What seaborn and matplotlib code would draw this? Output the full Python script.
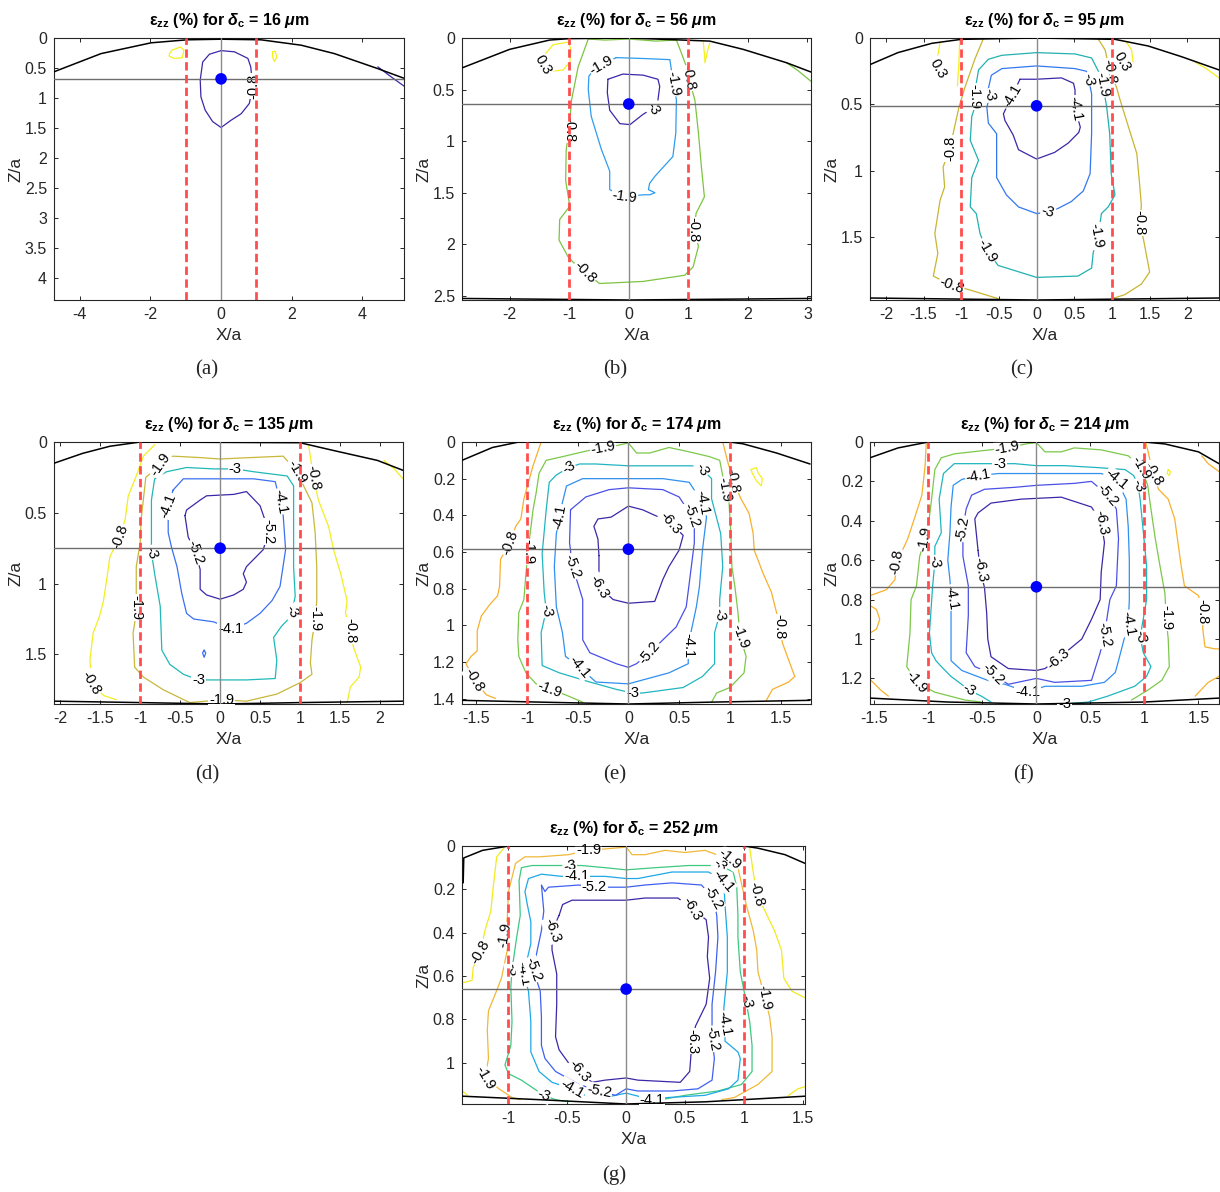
import matplotlib
matplotlib.use("Agg")
import matplotlib.pyplot as plt
from matplotlib.ticker import MultipleLocator, FuncFormatter
import seaborn as sns

sns.set_style("ticks", {"xtick.direction": "in", "ytick.direction": "in"})
plt.rcParams["font.family"] = ["Liberation Sans", "DejaVu Sans"]
plt.rcParams["axes.unicode_minus"] = False
plt.rcParams["mathtext.fontset"] = "custom"
plt.rcParams["mathtext.rm"] = "Liberation Sans:bold"
plt.rcParams["mathtext.it"] = "Liberation Sans:italic:bold"
plt.rcParams["mathtext.bf"] = "Liberation Sans:bold"

# Panel data, coordinates are (X/a, Z/a)
depth_um = [16, 56, 95, 135, 174, 214, 252]
dot_z = [0.68, 0.64, 0.51, 0.75, 0.585, 0.735, 0.66]
letters = ["(a)", "(b)", "(c)", "(d)", "(e)", "(f)", "(g)"]

# ---- (a) 16 um
top_a = [(-4.72, 0.56), (-3.40, 0.26), (-1.98, 0.08), (-0.96, 0.03), (0, 0.02), (1.13, 0.03),
         (2.27, 0.12), (3.21, 0.26), (4.44, 0.51), (5.18, 0.67)]
bottom_a = []
lines_a = [
    (-0.8, [(0.0, 0.21), (0.38, 0.23), (0.76, 0.34), (0.84, 0.48), (0.90, 0.80), (0.80, 1.09),
            (0.57, 1.26), (0.28, 1.37), (0, 1.49), (-0.24, 1.39), (-0.45, 1.20), (-0.57, 0.98),
            (-0.59, 0.70), (-0.52, 0.40), (-0.33, 0.27), (0.0, 0.21)]),
    (-0.8, [(4.44, 0.48), (4.87, 0.67), (5.18, 0.80)]),
    (0.3, [(-1.46, 0.26), (-1.38, 0.20), (-1.15, 0.15), (-1.05, 0.20), (-1.10, 0.33),
           (-1.34, 0.34), (-1.47, 0.30), (-1.46, 0.26)]),
    (0.3, [(1.46, 0.23), (1.53, 0.22), (1.58, 0.32), (1.51, 0.39), (1.46, 0.32), (1.46, 0.23)]),
]
labels_a = [("-0.8", 0.92, 0.80, 90)]
colors_a = {-0.8: "#3e26a8", 0.3: "#f5ef1f"}

# ---- (b) 56 um
top_b = [(-2.80, 0.29), (-2.0, 0.11), (-1.33, 0.02), (-1.0, 0.006), (0, 0.0), (1.36, 0.03),
         (1.92, 0.11), (2.65, 0.24), (3.06, 0.33)]
bottom_b = [(-2.80, 2.525), (0, 2.54), (3.06, 2.525)]
lines_b = [
    (0.3, [(-1.41, 0.16), (-1.27, 0.065), (-1.02, 0.04), (-0.97, 0.11), (-0.99, 0.23),
           (-1.10, 0.31), (-1.27, 0.32)]),
    (0.3, [(1.25, 0.03), (1.27, 0.15), (1.28, 0.24), (1.32, 0.13), (1.36, 0.05)]),
    (-0.8, [(-0.68, 0.01), (-0.85, 0.28), (-0.96, 0.60), (-1.0, 0.89), (-1.05, 1.08), (-1.06, 1.38),
            (-0.99, 1.63), (-1.16, 1.76), (-1.17, 1.96), (-1.02, 2.12), (-0.94, 2.17), (-0.74, 2.27),
            (-0.49, 2.38), (0.24, 2.36), (0.94, 2.30), (1.08, 2.22), (1.17, 2.02), (1.10, 1.86),
            (1.13, 1.70), (1.27, 1.54), (1.22, 1.25), (1.17, 0.92), (1.11, 0.60), (1.03, 0.44),
            (0.97, 0.28), (0.86, 0.11), (0.80, 0.02), (0.45, 0.03), (0.24, 0.02), (0, 0.01),
            (-0.4, 0.02), (-0.68, 0.01)]),
    (-0.8, [(2.65, 0.24), (2.85, 0.32), (3.06, 0.42)]),
    (-1.9, [(-0.21, 0.19), (0.30, 0.20), (0.69, 0.21), (0.75, 0.44), (0.80, 0.60), (0.79, 0.92),
            (0.74, 1.15), (0.44, 1.34), (0.35, 1.41), (0.33, 1.47), (0.44, 1.50), (0.35, 1.52),
            (0.24, 1.52), (-0.07, 1.54), (-0.32, 1.47), (-0.32, 1.29), (-0.46, 1.08), (-0.63, 0.76),
            (-0.68, 0.50), (-0.67, 0.37), (-0.60, 0.32), (-0.46, 0.26), (-0.21, 0.19)]),
    (-3.0, [(-0.35, 0.40), (-0.10, 0.35), (0.24, 0.36), (0.49, 0.40), (0.52, 0.47), (0.49, 0.60),
            (0.41, 0.68), (0.24, 0.74), (0.02, 0.84), (-0.15, 0.83), (-0.32, 0.70), (-0.36, 0.53),
            (-0.35, 0.40)]),
]
labels_b = [("0.3", -1.44, 0.26, -60), ("-0.8", -1.0, 0.89, -90), ("-0.8", -0.74, 2.27, -45),
            ("-0.8", 1.08, 1.86, -90), ("-0.8", 1.01, 0.39, -80), ("-1.9", -0.46, 0.26, 30),
            ("-1.9", 0.75, 0.44, -80), ("-1.9", -0.07, 1.54, -8), ("-3", 0.41, 0.68, -60)]
colors_b = {0.3: "#f5ef1f", -0.8: "#7cc440", -1.9: "#2f9cf0", -3.0: "#3e26a8"}

# ---- (c) 95 um
top_c = [(-2.21, 0.20), (-1.84, 0.11), (-1.39, 0.04), (-1.0, 0.01), (0, 0), (1.04, 0.01),
         (1.48, 0.06), (1.92, 0.14), (2.42, 0.24)]
bottom_c = [(-2.21, 1.955), (0, 1.97), (2.42, 1.955)]
lines_c = [
    (0.3, [(-1.28, 0.03), (-1.31, 0.13)]),
    (0.3, [(-1.02, 0.01), (-1.03, 0.18), (-1.05, 0.36)]),
    (0.3, [(1.19, 0.03), (1.26, 0.09), (1.28, 0.18)]),
    (0.3, [(2.10, 0.18), (2.25, 0.23), (2.42, 0.30)]),
    (-0.8, [(-0.71, 0.01), (-0.82, 0.16), (-0.95, 0.37), (-1.03, 0.52), (-1.10, 0.70), (-1.15, 0.83),
            (-1.24, 0.97), (-1.22, 1.12), (-1.28, 1.22), (-1.35, 1.47), (-1.31, 1.62), (-1.37, 1.79),
            (-1.13, 1.86), (-0.91, 1.89), (-0.51, 1.96)]),
    (-0.8, [(0.82, 0.01), (0.91, 0.09), (0.97, 0.25), (1.06, 0.37), (1.11, 0.47), (1.22, 0.67),
            (1.33, 0.87), (1.37, 1.12), (1.39, 1.26), (1.37, 1.39), (1.42, 1.52), (1.50, 1.76),
            (1.39, 1.85), (1.17, 1.93), (1.0, 1.96)]),
    (-1.9, [(-0.80, 0.34), (-0.77, 0.24), (-0.64, 0.16), (-0.46, 0.13), (0, 0.11), (0.51, 0.12),
            (0.73, 0.15), (0.82, 0.25), (0.88, 0.35), (0.93, 0.52), (0.97, 0.72), (0.99, 1.02),
            (1.04, 1.18), (0.95, 1.27), (0.86, 1.32), (0.84, 1.40), (0.80, 1.49), (0.75, 1.62),
            (0.73, 1.73), (0.55, 1.79), (0, 1.80), (-0.51, 1.71), (-0.66, 1.60), (-0.75, 1.47),
            (-0.80, 1.32), (-0.88, 1.27), (-0.86, 1.05), (-0.77, 0.92), (-0.88, 0.77), (-0.86, 0.59),
            (-0.82, 0.52), (-0.82, 0.44), (-0.80, 0.34)]),
    (-3.0, [(-0.64, 0.38), (-0.60, 0.28), (-0.46, 0.23), (0, 0.21), (0.51, 0.23), (0.66, 0.25),
            (0.69, 0.31), (0.73, 0.42), (0.73, 0.72), (0.71, 1.02), (0.62, 1.15), (0.46, 1.23),
            (0.29, 1.28), (0.15, 1.31), (0, 1.32), (-0.24, 1.27), (-0.40, 1.18), (-0.53, 1.05),
            (-0.53, 0.72), (-0.64, 0.64), (-0.66, 0.52), (-0.62, 0.43), (-0.64, 0.38)]),
    (-4.1, [(-0.22, 0.31), (0, 0.31), (0.33, 0.30), (0.49, 0.34), (0.51, 0.39), (0.51, 0.53),
            (0.58, 0.67), (0.56, 0.71), (0.42, 0.79), (0.24, 0.86), (0, 0.91), (-0.24, 0.84),
            (-0.31, 0.73), (-0.42, 0.62), (-0.44, 0.57), (-0.33, 0.44), (-0.22, 0.31)]),
]
labels_c = [("0.3", -1.31, 0.23, -60), ("0.3", 1.13, 0.18, -60), ("-0.8", 0.97, 0.25, -80),
            ("-0.8", -1.15, 0.83, 90), ("-0.8", -1.13, 1.86, -20), ("-0.8", 1.37, 1.39, -90),
            ("-1.9", -0.82, 0.44, -90), ("-1.9", 0.88, 0.35, -80), ("-1.9", 0.80, 1.49, -80),
            ("-1.9", -0.66, 1.60, -60), ("-3", -0.62, 0.43, -80), ("-3", 0.69, 0.31, -80),
            ("-3", 0.15, 1.31, -15), ("-4.1", -0.33, 0.44, 60), ("-4.1", 0.51, 0.53, -80)]
colors_c = {0.3: "#f5ef1f", -0.8: "#c9b530", -1.9: "#22b0b0", -3.0: "#3378f0", -4.1: "#3e26a8"}

# ---- (d) 135 um
top_d = [(-2.08, 0.15), (-1.72, 0.08), (-1.38, 0.03), (-1.0, 0.0), (1.0, 0.005), (1.42, 0.06),
         (1.97, 0.13), (2.29, 0.20)]
bottom_d = [(-2.08, 1.83), (-1.0, 1.84), (0, 1.85), (1.0, 1.84), (2.29, 1.83)]
lines_d = [
    (-0.8, [(-0.82, 0.02), (-0.96, 0.10), (-1.05, 0.24), (-1.15, 0.38), (-1.19, 0.55), (-1.26, 0.67),
            (-1.38, 0.81), (-1.42, 0.97), (-1.46, 1.12), (-1.51, 1.23), (-1.59, 1.35), (-1.63, 1.54),
            (-1.61, 1.70), (-1.46, 1.79), (-1.30, 1.82)]),
    (-0.8, [(1.11, 0.03), (1.17, 0.25), (1.23, 0.41), (1.36, 0.60), (1.42, 0.76), (1.51, 0.93),
            (1.59, 1.12), (1.57, 1.21), (1.63, 1.33), (1.67, 1.45), (1.76, 1.59), (1.74, 1.66),
            (1.63, 1.73), (1.59, 1.84)]),
    (-0.8, [(2.05, 0.13), (2.18, 0.19), (2.29, 0.26)]),
    (-1.9, [(-0.75, 0.16), (-0.59, 0.10), (-0.25, 0.11), (0, 0.12), (0.38, 0.11), (0.79, 0.10),
            (0.96, 0.21), (1.15, 0.43), (1.19, 0.64), (1.21, 0.88), (1.21, 1.12), (1.19, 1.25),
            (1.15, 1.40), (1.13, 1.56), (1.15, 1.64), (1.0, 1.70), (0.71, 1.78), (0.33, 1.83),
            (0.02, 1.82), (-0.38, 1.84), (-0.71, 1.75), (-0.96, 1.66), (-1.07, 1.59), (-1.09, 1.35),
            (-1.07, 1.28), (-1.05, 1.17), (-1.05, 1.07), (-1.05, 0.88), (-1.0, 0.71), (-0.99, 0.55),
            (-0.93, 0.25), (-0.75, 0.16)]),
    (-3.0, [(0.19, 0.19), (-0.08, 0.19), (-0.42, 0.18), (-0.67, 0.21), (-0.82, 0.26), (-0.86, 0.41),
            (-0.86, 0.64), (-0.86, 0.78), (-0.82, 0.93), (-0.75, 1.16), (-0.73, 1.47), (-0.63, 1.57),
            (-0.46, 1.64), (-0.27, 1.68), (-0.08, 1.68), (0.33, 1.68), (0.69, 1.67), (0.71, 1.54),
            (0.67, 1.38), (0.77, 1.30), (0.84, 1.26), (0.90, 1.20), (0.94, 1.09), (0.92, 0.88),
            (0.92, 0.52), (0.92, 0.31), (0.84, 0.24), (0.42, 0.21), (0.19, 0.19)]),
    (-4.1, [(-0.59, 0.34), (-0.46, 0.26), (0, 0.26), (0.42, 0.26), (0.69, 0.28), (0.75, 0.42),
            (0.79, 0.52), (0.82, 0.76), (0.75, 1.02), (0.65, 1.12), (0.50, 1.21), (0.33, 1.28),
            (0.13, 1.32), (-0.08, 1.27), (-0.33, 1.25), (-0.42, 1.21), (-0.48, 1.07), (-0.54, 0.88),
            (-0.61, 0.74), (-0.65, 0.64), (-0.65, 0.45), (-0.59, 0.34)]),
    (-4.1, [(-0.20, 1.47), (-0.18, 1.49), (-0.20, 1.52), (-0.22, 1.49), (-0.20, 1.47)]),
    (-5.2, [(-0.44, 0.52), (-0.42, 0.48), (-0.25, 0.41), (-0.17, 0.38), (0.17, 0.37), (0.33, 0.35),
            (0.50, 0.45), (0.61, 0.63), (0.54, 0.76), (0.33, 0.88), (0.29, 0.93), (0.33, 0.99),
            (0.29, 1.04), (0.17, 1.08), (0, 1.11), (-0.17, 1.08), (-0.25, 1.04), (-0.25, 0.90),
            (-0.31, 0.78), (-0.40, 0.67), (-0.44, 0.52)]),
]
labels_d = [("-0.8", -1.26, 0.67, 70), ("-0.8", -1.61, 1.70, -60), ("-0.8", 1.17, 0.25, -80),
            ("-0.8", 1.63, 1.33, -90), ("-1.9", -0.75, 0.16, 55), ("-1.9", 0.96, 0.21, -60),
            ("-1.9", 1.19, 1.25, -90), ("-1.9", 0.02, 1.82, 0), ("-1.9", -1.05, 1.17, -90),
            ("-3", 0.19, 0.19, 0), ("-3", -0.86, 0.78, -70), ("-3", -0.27, 1.68, 0),
            ("-3", 0.90, 1.20, -60), ("-4.1", 0.75, 0.42, -80), ("-4.1", 0.13, 1.32, 0),
            ("-4.1", -0.65, 0.45, 70), ("-5.2", 0.61, 0.63, -90), ("-5.2", -0.31, 0.78, -70)]
colors_d = {-0.8: "#f2ee22", -1.9: "#c8b83a", -3.0: "#20b8b8", -4.1: "#3a70f0", -5.2: "#3e26a8"}

# ---- (e) 174 um
top_e = [(-1.64, 0.10), (-1.34, 0.03), (-1.08, 0.0), (1.0, 0.0), (1.13, 0.01), (1.46, 0.06),
         (1.79, 0.12)]
bottom_e = [(-1.64, 1.41), (-0.85, 1.42), (0, 1.43), (0.80, 1.42), (1.79, 1.41)]
lines_e = [
    (0.3, [(1.21, 0.15), (1.26, 0.14), (1.28, 0.17), (1.32, 0.20), (1.31, 0.24), (1.26, 0.21),
           (1.22, 0.17), (1.21, 0.15)]),
    (-0.8, [(-0.86, 0.0), (-0.94, 0.13), (-1.03, 0.31), (-1.06, 0.42), (-1.11, 0.46), (-1.17, 0.55),
            (-1.26, 0.64), (-1.27, 0.79), (-1.29, 0.84), (-1.37, 0.89), (-1.45, 0.95), (-1.49, 1.03),
            (-1.49, 1.14), (-1.55, 1.17), (-1.60, 1.21), (-1.52, 1.30), (-1.40, 1.38), (-1.31, 1.40)]),
    (-0.8, [(0.93, 0.0), (0.98, 0.11), (1.03, 0.21), (1.11, 0.31), (1.19, 0.39), (1.23, 0.50),
            (1.24, 0.59), (1.33, 0.72), (1.41, 0.82), (1.46, 0.93), (1.49, 1.01), (1.52, 1.10),
            (1.58, 1.19), (1.64, 1.28), (1.58, 1.31), (1.42, 1.35), (1.36, 1.41)]),
    (-1.9, [(-0.25, 0.03), (-0.42, 0.05), (-0.65, 0.08), (-0.81, 0.10), (-0.88, 0.17), (-0.91, 0.28),
            (-0.94, 0.37), (-0.99, 0.60), (-1.01, 0.72), (-1.03, 0.86), (-1.08, 0.93), (-1.09, 1.08),
            (-1.08, 1.17), (-1.01, 1.26), (-0.91, 1.32), (-0.78, 1.35), (-0.62, 1.38), (-0.45, 1.42)]),
    (-1.9, [(-0.25, 0.03), (-0.12, 0.02), (0.0, 0.005), (0.08, 0.06), (0.21, 0.06), (0.40, 0.03),
            (0.57, 0.05), (0.80, 0.08), (0.90, 0.10), (0.95, 0.24), (0.99, 0.31), (1.01, 0.50),
            (1.02, 0.68), (1.05, 0.79), (1.08, 0.93), (1.10, 1.06), (1.16, 1.17), (1.14, 1.26),
            (1.0, 1.34), (0.87, 1.37), (0.82, 1.42)]),
    (-3.0, [(-0.59, 0.14), (-0.48, 0.12), (-0.32, 0.12), (0, 0.13), (0.34, 0.13), (0.63, 0.13),
            (0.73, 0.15), (0.82, 0.20), (0.82, 0.31), (0.91, 0.50), (0.93, 0.68), (0.90, 0.86),
            (0.90, 0.94), (0.85, 1.04), (0.85, 1.21), (0.73, 1.28), (0.54, 1.34), (0.14, 1.37),
            (0.04, 1.37), (-0.12, 1.35), (-0.38, 1.31), (-0.68, 1.26), (-0.85, 1.22), (-0.86, 1.04),
            (-0.81, 0.92), (-0.83, 0.82), (-0.85, 0.61), (-0.81, 0.37), (-0.78, 0.22), (-0.71, 0.18),
            (-0.59, 0.14)]),
    (-4.1, [(-0.65, 0.33), (-0.61, 0.24), (-0.45, 0.20), (0, 0.20), (0.34, 0.20), (0.60, 0.22),
            (0.73, 0.33), (0.77, 0.41), (0.73, 0.59), (0.70, 0.79), (0.67, 0.90), (0.62, 1.03),
            (0.59, 1.11), (0.59, 1.21), (0.40, 1.26), (0, 1.32), (-0.32, 1.31), (-0.48, 1.23),
            (-0.62, 1.17), (-0.65, 1.04), (-0.71, 0.90), (-0.73, 0.68), (-0.71, 0.50), (-0.68, 0.41),
            (-0.65, 0.33)]),
    (-5.2, [(-0.57, 0.37), (-0.42, 0.30), (-0.19, 0.26), (0, 0.25), (0.34, 0.26), (0.50, 0.30),
            (0.62, 0.40), (0.65, 0.46), (0.65, 0.55), (0.60, 0.77), (0.57, 0.90), (0.47, 1.01),
            (0.21, 1.15), (0.08, 1.21), (0, 1.23), (-0.12, 1.21), (-0.38, 1.15), (-0.45, 1.08),
            (-0.45, 0.86), (-0.50, 0.77), (-0.55, 0.68), (-0.58, 0.55), (-0.57, 0.37)]),
    (-6.3, [(-0.29, 0.62), (-0.30, 0.53), (-0.34, 0.46), (-0.30, 0.42), (-0.17, 0.41), (0, 0.35),
            (0.14, 0.37), (0.42, 0.44), (0.54, 0.51), (0.50, 0.59), (0.40, 0.68), (0.34, 0.75),
            (0.26, 0.87), (0, 0.88), (-0.15, 0.86), (-0.29, 0.79), (-0.29, 0.62)]),
]
labels_e = [("-0.8", -1.17, 0.55, 70), ("-0.8", -1.52, 1.30, -60), ("-0.8", 1.03, 0.21, -80),
            ("-0.8", 1.49, 1.01, -90), ("-1.9", -0.25, 0.03, 10), ("-1.9", -0.99, 0.60, -90),
            ("-1.9", -0.78, 1.35, -20), ("-1.9", 0.95, 0.26, -80), ("-1.9", 1.10, 1.06, -70),
            ("-3", -0.59, 0.14, 30), ("-3", 0.73, 0.15, -60), ("-3", 0.90, 0.94, -80),
            ("-3", 0.04, 1.37, 0), ("-3", -0.81, 0.92, -80), ("-4.1", -0.68, 0.41, 80),
            ("-4.1", 0.73, 0.33, -80), ("-4.1", 0.59, 1.11, -90), ("-4.1", -0.48, 1.23, -50),
            ("-5.2", 0.62, 0.40, -70), ("-5.2", 0.21, 1.15, 50), ("-5.2", -0.55, 0.68, -70),
            ("-6.3", 0.42, 0.44, -50), ("-6.3", -0.29, 0.79, -60)]
colors_e = {0.3: "#f5ef1f", -0.8: "#f7b02e", -1.9: "#7cc84a", -3.0: "#20b5c0", -4.1: "#2f90f0",
            -5.2: "#4a50e6", -6.3: "#3e26a8"}

# ---- (f) 214 um
top_f = [(-1.54, 0.08), (-1.28, 0.03), (-1.0, 0.0), (1.0, 0.0), (1.19, 0.01), (1.50, 0.05),
         (1.69, 0.11)]
bottom_f = [(-1.54, 1.30), (-0.82, 1.32), (0, 1.33), (1.0, 1.32), (1.69, 1.30)]
lines_f = [
    (0.3, [(1.22, 0.14), (1.24, 0.15), (1.23, 0.17), (1.21, 0.16), (1.22, 0.14)]),
    (-0.8, [(-1.02, 0.01), (-1.03, 0.12), (-1.06, 0.27), (-1.13, 0.39), (-1.19, 0.49), (-1.29, 0.61),
            (-1.31, 0.70), (-1.39, 0.75), (-1.54, 0.78)]),
    (-0.8, [(-1.54, 0.83), (-1.48, 0.85), (-1.45, 0.90), (-1.48, 0.95), (-1.54, 0.97)]),
    (-0.8, [(-1.53, 1.21), (-1.44, 1.26), (-1.37, 1.29)]),
    (-0.8, [(1.01, 0.0), (1.03, 0.04), (1.08, 0.16), (1.13, 0.24), (1.22, 0.29), (1.28, 0.39),
            (1.31, 0.51), (1.34, 0.63), (1.37, 0.73), (1.50, 0.78), (1.54, 0.86), (1.54, 0.95),
            (1.56, 1.04), (1.65, 1.05), (1.69, 1.05)]),
    (-0.8, [(1.53, 0.07), (1.59, 0.11), (1.69, 0.15)]),
    (-0.8, [(1.47, 1.29), (1.59, 1.22), (1.69, 1.19)]),
    (-1.9, [(-0.27, 0.03), (-0.43, 0.04), (-0.76, 0.06), (-0.88, 0.08), (-0.94, 0.14), (-0.97, 0.29),
            (-0.99, 0.38), (-1.03, 0.49), (-1.08, 0.58), (-1.11, 0.73), (-1.16, 0.80), (-1.17, 0.97),
            (-1.20, 1.14), (-1.11, 1.22), (-0.94, 1.27), (-0.66, 1.31), (-0.51, 1.32)]),
    (-1.9, [(-0.27, 0.03), (-0.1, 0.01), (0, 0.003), (0.08, 0.05), (0.23, 0.05), (0.35, 0.03),
            (0.60, 0.04), (0.85, 0.07), (0.97, 0.13), (1.03, 0.22), (1.06, 0.34), (1.10, 0.49),
            (1.16, 0.68), (1.19, 0.77), (1.20, 0.89), (1.22, 1.00), (1.23, 1.14), (1.16, 1.21),
            (1.03, 1.26), (0.88, 1.31)]),
    (-3.0, [(-0.34, 0.11), (-0.48, 0.11), (-0.76, 0.11), (-0.86, 0.16), (-0.90, 0.29), (-0.88, 0.46),
            (-0.94, 0.53), (-0.94, 0.61), (-0.96, 0.73), (-0.99, 0.97), (-0.97, 1.07), (-0.93, 1.11),
            (-0.88, 1.14), (-0.79, 1.19), (-0.62, 1.26), (-0.51, 1.29), (-0.42, 1.32)]),
    (-3.0, [(-0.34, 0.11), (-0.20, 0.11), (0, 0.12), (0.26, 0.12), (0.57, 0.13), (0.82, 0.14),
            (0.90, 0.17), (0.94, 0.22), (0.96, 0.29), (0.99, 0.46), (1.02, 0.63), (1.02, 0.80),
            (0.96, 0.99), (0.99, 1.07), (1.06, 1.14), (1.02, 1.19), (0.91, 1.24), (0.66, 1.29),
            (0.48, 1.32), (0.26, 1.33), (0.11, 1.33)]),
    (-4.1, [(-0.54, 0.17), (-0.69, 0.19), (-0.77, 0.22), (-0.79, 0.33), (-0.80, 0.46), (-0.82, 0.60),
            (-0.80, 0.70), (-0.79, 0.79), (-0.79, 0.90), (-0.79, 1.11), (-0.69, 1.16), (-0.45, 1.21),
            (-0.29, 1.23), (-0.08, 1.27), (0.08, 1.24), (0.42, 1.24), (0.63, 1.22), (0.73, 1.17),
            (0.76, 1.11), (0.85, 0.92), (0.86, 0.80), (0.86, 0.60), (0.85, 0.43), (0.83, 0.29),
            (0.74, 0.19), (0.60, 0.16), (0.11, 0.16), (-0.35, 0.16), (-0.54, 0.17)]),
    (-5.2, [(-0.68, 0.44), (-0.65, 0.34), (-0.60, 0.27), (-0.48, 0.24), (-0.20, 0.23), (0, 0.22),
            (0.35, 0.21), (0.51, 0.20), (0.66, 0.27), (0.74, 0.34), (0.76, 0.49), (0.74, 0.73),
            (0.68, 0.80), (0.66, 0.87), (0.63, 0.98), (0.59, 1.07), (0.51, 1.21), (0.17, 1.22),
            (0, 1.20), (-0.26, 1.23), (-0.40, 1.18), (-0.57, 1.14), (-0.65, 1.07), (-0.63, 0.88),
            (-0.63, 0.73), (-0.68, 0.58), (-0.68, 0.44)]),
    (-6.3, [(-0.54, 0.55), (-0.57, 0.39), (-0.54, 0.36), (-0.42, 0.31), (-0.14, 0.29), (0.23, 0.28),
            (0.51, 0.33), (0.60, 0.41), (0.63, 0.51), (0.60, 0.66), (0.59, 0.80), (0.51, 0.90),
            (0.42, 1.00), (0.20, 1.10), (0.08, 1.15), (0, 1.16), (-0.26, 1.15), (-0.42, 1.09),
            (-0.45, 1.00), (-0.46, 0.87), (-0.48, 0.74), (-0.52, 0.65), (-0.54, 0.55)]),
]
labels_f = [("-0.8", -1.29, 0.61, 80), ("-0.8", 1.08, 0.16, -60), ("-0.8", 1.54, 0.86, -90),
            ("-1.9", -0.27, 0.03, 10), ("-1.9", -1.03, 0.49, 80), ("-1.9", -1.11, 1.22, -50),
            ("-1.9", 0.97, 0.13, -60), ("-1.9", 1.20, 0.89, -90), ("-3", -0.34, 0.11, 0),
            ("-3", -0.94, 0.61, -80), ("-3", -0.62, 1.26, -30), ("-3", 0.94, 0.22, -70),
            ("-3", 0.96, 0.99, -80), ("-3", 0.26, 1.33, 0), ("-4.1", -0.54, 0.17, 10),
            ("-4.1", -0.79, 0.79, -80), ("-4.1", -0.08, 1.27, 0), ("-4.1", 0.85, 0.92, -80),
            ("-4.1", 0.74, 0.19, -40), ("-5.2", -0.68, 0.44, 80), ("-5.2", 0.66, 0.27, -50),
            ("-5.2", 0.63, 0.98, -80), ("-5.2", -0.40, 1.18, -45), ("-6.3", 0.60, 0.41, -80),
            ("-6.3", 0.20, 1.10, 40), ("-6.3", -0.52, 0.65, -80)]
colors_f = dict(colors_e)

# ---- (g) 252 um
top_g = [(-1.385, 0.17), (-1.38, 0.055), (-1.22, 0.02), (-1.03, 0.003), (-1.0, 0.0), (1.0, 0.0),
         (1.12, 0.01), (1.35, 0.04), (1.52, 0.08)]
bottom_g = [(-1.39, 1.154), (-0.74, 1.17), (0, 1.19), (0.67, 1.18), (1.52, 1.154)]
lines_g = [
    (-0.8, [(-1.04, 0.01), (-1.10, 0.05), (-1.13, 0.19), (-1.15, 0.30), (-1.20, 0.39), (-1.24, 0.49),
            (-1.30, 0.56), (-1.31, 0.62), (-1.38, 0.63)]),
    (-0.8, [(-1.39, 1.13), (-1.35, 1.15)]),
    (-0.8, [(1.05, 0.01), (1.08, 0.12), (1.11, 0.22), (1.18, 0.30), (1.26, 0.39), (1.32, 0.48),
            (1.34, 0.61), (1.41, 0.67), (1.52, 0.70)]),
    (-0.8, [(1.38, 1.15), (1.46, 1.12), (1.52, 1.11)]),
    (-1.9, [(-0.32, 0.02), (-0.49, 0.04), (-0.74, 0.05), (-0.86, 0.05), (-0.94, 0.08), (-1.0, 0.21),
            (-1.01, 0.33), (-1.03, 0.41), (-1.01, 0.48), (-1.06, 0.61), (-1.11, 0.68), (-1.17, 0.76),
            (-1.18, 0.85), (-1.17, 0.98), (-1.20, 1.07), (-1.08, 1.12), (-0.97, 1.16), (-0.90, 1.17)]),
    (-1.9, [(-0.32, 0.02), (-0.1, 0.01), (0, 0.005), (0.05, 0.04), (0.16, 0.04), (0.33, 0.02),
            (0.50, 0.03), (0.67, 0.02), (0.77, 0.04), (0.88, 0.06), (0.95, 0.10), (1.02, 0.27),
            (1.08, 0.39), (1.11, 0.48), (1.12, 0.58), (1.18, 0.70), (1.22, 0.79), (1.24, 0.88),
            (1.24, 1.04), (1.12, 1.10), (0.92, 1.16), (0.81, 1.17)]),
    (-3.0, [(-0.48, 0.09), (-0.63, 0.09), (-0.80, 0.09), (-0.89, 0.10), (-0.91, 0.16), (-0.90, 0.32),
            (-0.93, 0.42), (-0.97, 0.57), (-0.98, 0.65), (-0.97, 0.81), (-0.98, 0.92), (-1.03, 1.01),
            (-1.00, 1.05), (-0.89, 1.08), (-0.70, 1.15), (-0.60, 1.17), (-0.49, 1.18)]),
    (-3.0, [(-0.48, 0.09), (-0.38, 0.09), (-0.18, 0.10), (0, 0.11), (0.25, 0.10), (0.53, 0.09),
            (0.70, 0.09), (0.80, 0.09), (0.91, 0.12), (0.94, 0.19), (0.95, 0.32), (0.95, 0.42),
            (0.97, 0.58), (1.02, 0.72), (1.05, 0.81), (1.07, 0.92), (1.07, 1.04), (0.98, 1.10),
            (0.78, 1.13), (0.50, 1.15), (0.30, 1.17)]),
    (-4.1, [(-0.42, 0.14), (-0.55, 0.14), (-0.72, 0.13), (-0.83, 0.15), (-0.86, 0.21), (-0.84, 0.27),
            (-0.81, 0.35), (-0.81, 0.45), (-0.87, 0.59), (-0.83, 0.67), (-0.81, 0.81), (-0.81, 0.95),
            (-0.74, 1.04), (-0.63, 1.09), (-0.46, 1.12), (-0.35, 1.15), (-0.18, 1.16), (0, 1.14),
            (0.22, 1.17), (0.36, 1.16), (0.67, 1.15), (0.87, 1.12), (0.95, 1.08), (0.97, 0.98),
            (0.95, 0.95), (0.84, 0.90), (0.84, 0.82), (0.83, 0.75), (0.86, 0.58), (0.86, 0.42),
            (0.84, 0.27), (0.83, 0.16), (0.70, 0.12), (0.39, 0.12), (0.10, 0.15), (0, 0.15),
            (-0.18, 0.14), (-0.42, 0.14)]),
    (-5.2, [(-0.27, 0.19), (-0.40, 0.18), (-0.66, 0.19), (-0.69, 0.21), (-0.72, 0.18), (-0.70, 0.30),
            (-0.72, 0.39), (-0.79, 0.57), (-0.73, 0.67), (-0.72, 0.79), (-0.72, 0.92), (-0.69, 0.98),
            (-0.60, 1.04), (-0.40, 1.10), (-0.23, 1.13), (-0.09, 1.15), (0, 1.12), (0.10, 1.13),
            (0.39, 1.13), (0.61, 1.12), (0.73, 1.08), (0.75, 0.98), (0.73, 0.89), (0.73, 0.73),
            (0.76, 0.58), (0.78, 0.42), (0.77, 0.32), (0.74, 0.24), (0.64, 0.18), (0.39, 0.17),
            (0.16, 0.18), (0, 0.19), (-0.12, 0.19), (-0.27, 0.19)]),
    (-6.3, [(-0.57, 0.32), (-0.54, 0.27), (-0.46, 0.25), (-0.29, 0.25), (0, 0.25), (0.16, 0.24),
            (0.33, 0.24), (0.44, 0.24), (0.56, 0.29), (0.68, 0.34), (0.70, 0.42), (0.69, 0.51),
            (0.71, 0.61), (0.68, 0.73), (0.59, 0.83), (0.56, 0.90), (0.54, 1.04), (0.46, 1.09),
            (0.10, 1.08), (0, 1.07), (-0.18, 1.08), (-0.29, 1.09), (-0.40, 1.04), (-0.49, 1.00),
            (-0.57, 0.94), (-0.60, 0.88), (-0.59, 0.73), (-0.59, 0.59), (-0.63, 0.48), (-0.63, 0.39),
            (-0.57, 0.32)]),
]
labels_g = [("-0.8", -1.24, 0.49, 60), ("-0.8", 1.11, 0.22, -75), ("-1.9", -0.32, 0.02, 0),
            ("-1.9", -1.03, 0.41, 80), ("-1.9", -1.20, 1.07, -60), ("-1.9", 0.88, 0.06, -40),
            ("-1.9", 1.18, 0.70, -80), ("-3", -0.48, 0.09, 10), ("-3", -0.97, 0.57, -80),
            ("-3", -0.70, 1.15, -20), ("-3", 0.80, 0.09, -40), ("-3", 1.02, 0.72, -80),
            ("-4.1", -0.42, 0.14, 0), ("-4.1", -0.87, 0.59, -80), ("-4.1", -0.46, 1.12, -30),
            ("-4.1", 0.22, 1.17, 0), ("-4.1", 0.84, 0.82, -80), ("-4.1", 0.83, 0.16, -50),
            ("-5.2", -0.27, 0.19, 0), ("-5.2", -0.79, 0.57, -70), ("-5.2", -0.23, 1.13, -10),
            ("-5.2", 0.73, 0.89, -80), ("-5.2", 0.74, 0.24, -60), ("-6.3", -0.63, 0.39, -70),
            ("-6.3", -0.40, 1.04, -50), ("-6.3", 0.56, 0.90, -90), ("-6.3", 0.56, 0.29, -60)]
colors_g = {-0.8: "#f2ea20", -1.9: "#f0b838", -3.0: "#3ec880", -4.1: "#1ea8e6", -5.2: "#4060f0",
            -6.3: "#3e26a8"}

# layout: axes boxes in pixels (left, top, right, bottom), limits and tick steps
W, H = 1220, 1192
panels = [
    dict(box=(54, 38, 404, 300), xlim=(-4.73, 5.18), zmax=4.36, xs=2, zs=0.5, cap=(207, 370),
         top=top_a, bot=bottom_a, lines=lines_a, labels=labels_a, colors=colors_a),
    dict(box=(462, 38, 811, 300), xlim=(-2.80, 3.06), zmax=2.54, xs=1, zs=0.5, cap=(615, 370),
         top=top_b, bot=bottom_b, lines=lines_b, labels=labels_b, colors=colors_b),
    dict(box=(870, 38, 1219, 300), xlim=(-2.21, 2.42), zmax=1.97, xs=0.5, zs=0.5, cap=(1022, 370),
         top=top_c, bot=bottom_c, lines=lines_c, labels=labels_c, colors=colors_c),
    dict(box=(54, 442, 403, 704), xlim=(-2.08, 2.29), zmax=1.85, xs=0.5, zs=0.5, cap=(207, 775),
         top=top_d, bot=bottom_d, lines=lines_d, labels=labels_d, colors=colors_d),
    dict(box=(462, 442, 811, 704), xlim=(-1.64, 1.80), zmax=1.43, xs=0.5, zs=0.2, cap=(615, 775),
         top=top_e, bot=bottom_e, lines=lines_e, labels=labels_e, colors=colors_e),
    dict(box=(870, 442, 1219, 704), xlim=(-1.54, 1.69), zmax=1.33, xs=0.5, zs=0.2, cap=(1023, 775),
         top=top_f, bot=bottom_f, lines=lines_f, labels=labels_f, colors=colors_f),
    dict(box=(462, 846, 805, 1104), xlim=(-1.395, 1.52), zmax=1.19, xs=0.5, zs=0.2, cap=(614, 1175),
         top=top_g, bot=bottom_g, lines=lines_g, labels=labels_g, colors=colors_g),
]

fig = plt.figure(figsize=(W / 100, H / 100), dpi=100)
fmt = FuncFormatter(lambda v, p: "%g" % round(v, 6))


def draw_line(ax, pts, color, lw, zorder=2):
    xs = [p[0] for p in pts]
    zs = [p[1] for p in pts]
    sns.lineplot(x=xs, y=zs, sort=False, estimator=None, color=color, linewidth=lw,
                 ax=ax, zorder=zorder, legend=False)


for i, p in enumerate(panels):
    l, t, r, b = p["box"]
    ax = fig.add_axes([l / W, 1 - b / H, (r - l) / W, (b - t) / H])

    for level, pts in p["lines"]:
        draw_line(ax, pts, p["colors"][level], 0.9)
    for txt, x, z, rot in p["labels"]:
        ax.text(x, z, txt, rotation=rot, rotation_mode="anchor", ha="center", va="center",
                fontsize=10.5, color="black", zorder=3,
                bbox=dict(boxstyle="square,pad=0.05", fc="white", ec="none"))
    for curve in (p["top"], p["bot"]):
        if curve:
            draw_line(ax, curve, "black", 1.1, zorder=4)

    ax.axvline(0, color="#8a8a8a", lw=1.0, zorder=5)
    ax.axhline(dot_z[i], color="#6e6e6e", lw=1.0, zorder=5)
    for xv in (-1, 1):
        ax.axvline(xv, color="#ff4d4d", lw=2.0, ls=(0, (3, 1.6)), zorder=6)
    sns.scatterplot(x=[0], y=[dot_z[i]], color="#0000ff", s=70, edgecolor="none", ax=ax, zorder=7)

    ax.set_xlim(*p["xlim"])
    ax.set_ylim(p["zmax"], 0)
    ax.xaxis.set_major_locator(MultipleLocator(p["xs"]))
    ax.yaxis.set_major_locator(MultipleLocator(p["zs"]))
    ax.xaxis.set_major_formatter(fmt)
    ax.yaxis.set_major_formatter(fmt)
    ax.tick_params(direction="in", length=3, width=0.7, labelsize=11.5, colors="#262626",
                   top=True, right=True, pad=5)
    for s in ax.spines.values():
        s.set_color("#262626")
        s.set_linewidth(0.8)
    ax.set_xlabel("X/a", fontsize=12.5, color="#262626", labelpad=4)
    ax.set_ylabel("Z/a", fontsize=12.5, color="#262626", labelpad=1)
    ax.set_title(r"$\mathbf{\varepsilon_{zz}}$ (%%) for $\delta_\mathbf{c}$ = %d $\mu$m" % depth_um[i],
                 fontsize=11.5, fontweight="bold", color="black", pad=9)

    cx, cy = p["cap"]
    fig.text(cx / W, 1 - cy / H, letters[i], ha="center", va="center", fontsize=15,
             family=["Liberation Serif", "DejaVu Serif"])

fig.savefig("out.png", dpi=100)
